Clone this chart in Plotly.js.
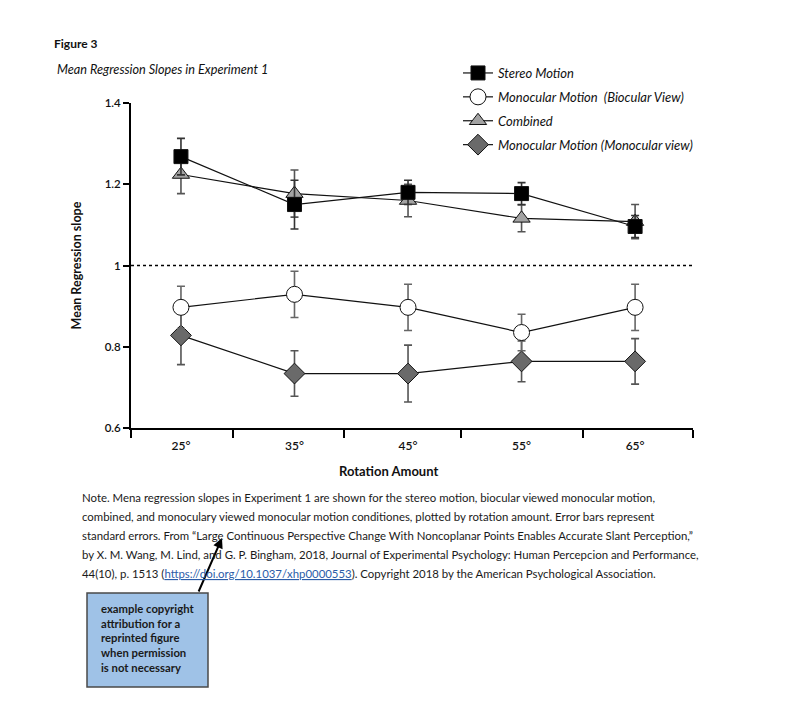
<!DOCTYPE html>
<html>
<head>
<meta charset="utf-8">
<script src="https://cdn.plot.ly/plotly-3.0.1.min.js"></script>
<style>
  html, body { margin: 0; padding: 0; background: #ffffff; }
  #chart { width: 792px; height: 710px; }
</style>
</head>
<body>
<div id="chart"></div>
<script>
// ---------- data ----------
const rotation = [25, 35, 45, 55, 65];
const rotationLabels = ['25°', '35°', '45°', '55°', '65°'];

const stereoMotion = [1.268, 1.150, 1.180, 1.177, 1.096];
const stereoMotionSE = [0.045, 0.060, 0.030, 0.027, 0.027];

const monoBiocular = [0.897, 0.929, 0.897, 0.835, 0.897];
const monoBiocularSE = [0.052, 0.057, 0.057, 0.045, 0.057];

const combined = [1.224, 1.177, 1.160, 1.116, 1.108];
const combinedSE = [0.047, 0.058, 0.040, 0.033, 0.042];

const monoMonocular = [0.828, 0.734, 0.734, 0.764, 0.764];
const monoMonocularSE = [0.072, 0.056, 0.070, 0.050, 0.056];

const seriesNames = [
  'Stereo Motion',
  'Monocular Motion \u00a0(Biocular View)',
  'Combined',
  'Monocular Motion (Monocular view)'
];

const yTicks = [0.6, 0.8, 1, 1.2, 1.4];
const referenceSlope = 1;

const figureLabel = 'Figure 3';
const figureTitle = 'Mean Regression Slopes in Experiment 1';
const xTitle = 'Rotation Amount';
const yTitle = 'Mean Regression slope';

const noteLines = [
  'Note. Mena regression slopes in Experiment 1 are shown for the stereo motion, biocular viewed monocular motion,',
  'combined, and monoculary viewed monocular motion conditiones, plotted by rotation amount. Error bars represent',
  'standard errors. From \u201cLarge Continuous Perspective Change With Noncoplanar Points Enables Accurate Slant Perception,\u201d',
  'by X. M. Wang, M. Lind, and G. P. Bingham, 2018, Journal of Experimental Psychology: Human Percepcion and Performance,',
  '44(10), p. 1513 (<span style="fill:#2b5ca8;text-decoration:underline">https://doi.org/10.1037/xhp0000553</span>). Copyright 2018 by the American Psychological Association.'
];
const calloutText = 'example copyright<br>attribution for a<br>reprinted figure<br>when permission<br>is not necessary';

// ---------- layout helpers (pixel -> paper) ----------
const W = 792, H = 710;
const M = { l: 131, r: 99, t: 103, b: 282, autoexpand: false };
const PW = W - M.l - M.r, PH = H - M.t - M.b;
const px = v => (v - M.l) / PW;
const py = v => (H - M.b - v) / PH;

const FONT = 'Lato, "Open Sans", "Noto Sans", sans-serif';

function series(name, y, se, symbol, size, fill, errColor, rank) {
  return {
    type: 'scatter', mode: 'lines+markers',
    x: rotation, y: y, name: name,
    legendrank: rank, legendgroup: 'g' + rank,
    line: { color: '#111111', width: 1.2 },
    marker: { symbol: symbol, size: size, color: fill, line: { color: '#111111', width: 1 } },
    error_y: { type: 'data', array: se, visible: true, color: errColor, thickness: 1.6, width: 4 },
    cliponaxis: false
  };
}

const traces = [
  series(seriesNames[3], monoMonocular, monoMonocularSE, 'diamond', 16, '#6a6a6a', '#555555', 4),
  series(seriesNames[1], monoBiocular, monoBiocularSE, 'circle', 16, '#ffffff', '#666666', 2),
  series(seriesNames[2], combined, combinedSE, 'triangle-up', 15, '#a3a3a3', '#555555', 3),
  series(seriesNames[0], stereoMotion, stereoMotionSE, 'square', 14, '#000000', '#333333', 1)
];

const annotations = [
  { text: '<b>' + figureLabel + '</b>', xref: 'paper', yref: 'paper', x: px(52), y: py(44),
    xanchor: 'left', yanchor: 'middle', showarrow: false, font: { family: FONT, size: 12, color: '#111' } },
  { text: '<i>' + figureTitle + '</i>', xref: 'paper', yref: 'paper', x: px(55), y: py(69),
    xanchor: 'left', yanchor: 'middle', showarrow: false, font: { family: FONT, size: 12.7, color: '#111' } },
  { text: '<b>' + xTitle + '</b>', xref: 'paper', yref: 'paper', x: px(388), y: py(471),
    xanchor: 'center', yanchor: 'middle', showarrow: false, font: { family: FONT, size: 13, color: '#111' } },
  // arrow
  { text: '', xref: 'paper', yref: 'paper', x: px(222), y: py(538), ax: -24, ay: 55,
    showarrow: true, arrowhead: 2, arrowsize: 1, arrowwidth: 2, arrowcolor: '#000' },
  // callout box text
  { text: '<b>' + calloutText + '</b>', xref: 'paper', yref: 'paper', x: px(99), y: py(600),
    xanchor: 'left', yanchor: 'top', align: 'left', showarrow: false,
    font: { family: FONT, size: 11.3, color: '#1a1a1a' } }
];
noteLines.forEach((t, i) => {
  annotations.push({ text: t, xref: 'paper', yref: 'paper', x: px(80), y: py(497 + i * 19),
    xanchor: 'left', yanchor: 'middle', showarrow: false, align: 'left',
    font: { family: FONT, size: 11.4, color: '#1a1a1a' } });
});

const layout = {
  width: W, height: H,
  margin: M,
  paper_bgcolor: '#ffffff', plot_bgcolor: '#ffffff',
  font: { family: FONT, color: '#111' },
  showlegend: true,
  legend: {
    xref: 'container', yref: 'container',
    x: 458 / W, y: 1 - 58 / H, xanchor: 'left', yanchor: 'top',
    bgcolor: 'rgba(0,0,0,0)', borderwidth: 0,
    traceorder: 'grouped', tracegroupgap: 4,
    font: { family: FONT, size: 13, style: 'italic', color: '#111' }
  },
  xaxis: {
    range: [20.6, 70.1],
    tickmode: 'array', tickvals: rotation, ticktext: rotationLabels,
    ticks: '', ticklabelstandoff: 6, showgrid: false, zeroline: false,
    showline: true, linecolor: '#000', linewidth: 2,
    tickfont: { family: FONT, size: 12, color: '#111', weight: 600 },
    minor: { tickmode: 'array', tickvals: [20.6, 29.6, 39.4, 49.7, 60.4, 70.1], ticks: 'outside', ticklen: 8, tickwidth: 2, tickcolor: '#000', showgrid: false },
    fixedrange: true
  },
  yaxis: {
    range: [0.6, 1.4],
    tickmode: 'array', tickvals: yTicks,
    ticks: 'outside', ticklen: 6, tickwidth: 2, tickcolor: '#000',
    showgrid: false, zeroline: false,
    showline: true, linecolor: '#000', linewidth: 2,
    tickfont: { family: FONT, size: 11.5, color: '#111', weight: 600 },
    title: { text: '<b>' + yTitle + '</b>', font: { family: FONT, size: 12.5, color: '#111' }, standoff: 20 },
    fixedrange: true
  },
  shapes: [
    { type: 'line', xref: 'paper', yref: 'y', x0: 0, x1: 1, y0: referenceSlope, y1: referenceSlope,
      line: { color: '#000', width: 1.5, dash: 'dot' }, layer: 'below' },
    { type: 'rect', xref: 'paper', yref: 'paper', x0: px(87), x1: px(208), y0: py(687), y1: py(593),
      fillcolor: '#9fc2e7', line: { color: '#4a4a4a', width: 1.5 }, layer: 'below' }
  ],
  annotations: annotations
};

Plotly.newPlot('chart', traces, layout, { displayModeBar: false, staticPlot: true });
</script>
</body>
</html>
